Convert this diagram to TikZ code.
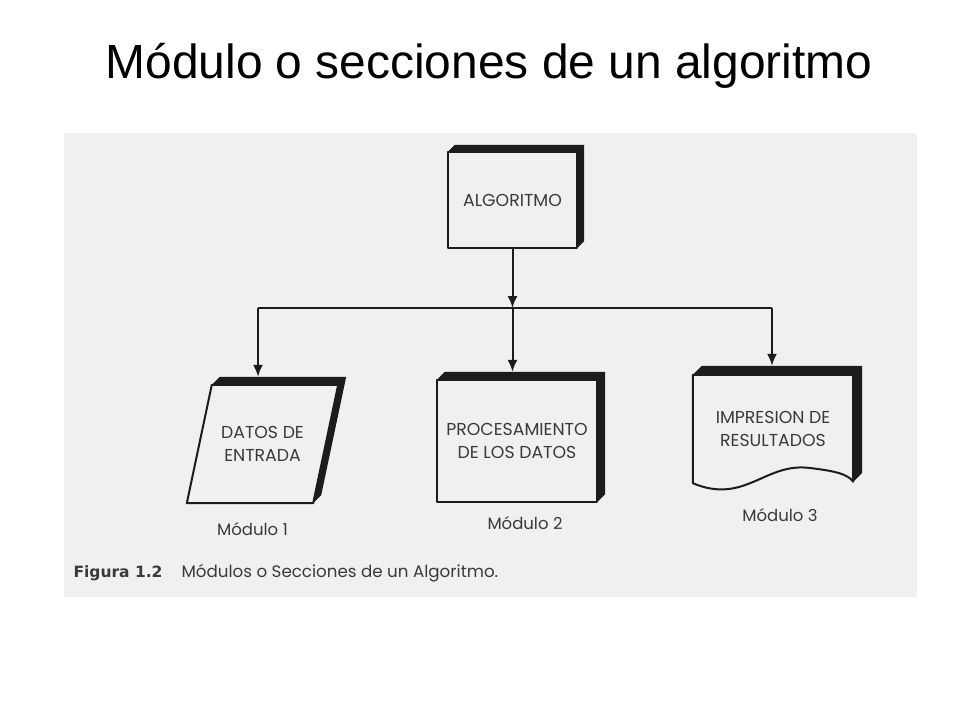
\documentclass[tikz,border=0pt]{standalone}
\usepackage{fontspec}
\setmainfont{Liberation Sans}
\newfontfamily\boxfont{Poppins}
\newfontfamily\figfont{DejaVu Sans}
\usetikzlibrary{positioning, calc, arrows.meta}
\definecolor{panel}{HTML}{F0F0F0}
\definecolor{tinta}{HTML}{1C1C1C}
\definecolor{texto}{HTML}{3A3A3A}

\begin{document}
\begin{tikzpicture}[x=1pt, y=-1pt,
	modulo/.style={rectangle, inner sep=0pt, align=center, text=texto,
		font=\boxfont\fontsize{17.3}{23}\selectfont},
	etiqueta/.style={text=texto, font=\boxfont\fontsize{16.5}{18}\selectfont},
	linea/.style={draw=tinta, line width=2pt},
	flecha/.style={linea, -{Latex[length=12pt,width=10pt]}},
	sombra/.style={fill=tinta},
	contorno/.style={draw=tinta, line width=2pt, line join=round}]
	
	\useasboundingbox (0,0) rectangle (960,720);
	
	%Title and scanned panel
	\node (titulo) at (489,78) [anchor=base, font=\fontsize{47.9}{52}\selectfont]{M\'odulo o secciones de un algoritmo};
	
	\fill[panel] (64,133) rectangle (917,597);
	
	%Nodes of the scheme
	\node (algoritmo) at (512.5,200) [modulo, minimum width=129, minimum height=96]{ALGORITMO};
	
	\node (datos) at (262.5,444) [modulo, minimum width=151, minimum height=118]{DATOS DE\\ENTRADA};
	
	\node (procesamiento) at (517,441) [modulo, minimum width=160, minimum height=122]{PROCESAMIENTO\\DE LOS DATOS};
	
	\node (impresion) at (773,429) [modulo, minimum width=160, minimum height=108]{IMPRESION DE\\RESULTADOS};
	
	%Shadows and outlines
	\fill[sombra] (algoritmo.north west) -- ++(7,-7) -- ($(algoritmo.north east)+(7,-7)$) -- 
	($(algoritmo.south east)+(7,-7)$) -- (algoritmo.south east) -- (algoritmo.north east) -- cycle;
	\draw[contorno] (algoritmo.north west) rectangle (algoritmo.south east);
	
	\fill[sombra] ($(datos.north west)+(25,0)$) -- ++(8,-8) -- ($(datos.north east)+(8,-8)$) -- 
	($(datos.south east)+(-17,-8)$) -- ($(datos.south east)+(-25,0)$) -- (datos.north east) -- cycle;
	\draw[contorno] ($(datos.north west)+(25,0)$) -- (datos.north east) -- ($(datos.south east)+(-25,0)$) -- 
	(datos.south west) -- cycle;
	
	\fill[sombra] (procesamiento.north west) -- ++(8,-8) -- ($(procesamiento.north east)+(8,-8)$) -- 
	($(procesamiento.south east)+(8,-8)$) -- (procesamiento.south east) -- (procesamiento.north east) -- cycle;
	\draw[contorno] (procesamiento.north west) rectangle (procesamiento.south east);
	
	\fill[sombra] (impresion.north west) -- ++(9,-9) -- ($(impresion.north east)+(9,-9)$) -- 
	($(impresion.north east)+(9,98)$) -- ($(impresion.north east)+(0,107)$) -- (impresion.north east) -- cycle;
	\draw[contorno] (impresion.north east) -- (impresion.north west) -- (impresion.south west) 
	.. controls (745,505) and (765,462) .. (810,468) .. controls (835,471) and (848,474) .. 
	($(impresion.north east)+(0,107)$) -- cycle;
	
	%Module labels
	\node (modulo1) [etiqueta, below=16pt of datos, xshift=-10pt]{M\'odulo 1};
	\node (modulo2) [etiqueta, below=11pt of procesamiento, xshift=8pt]{M\'odulo 2};
	\node (modulo3) [etiqueta, below=22pt of impresion, xshift=7pt]{M\'odulo 3};
	
	%Links
	\coordinate (rama) at (512.5,308);
	\coordinate (izquierda) at (258,308);
	\coordinate (derecha) at (772,308);
	
	\draw[flecha] (algoritmo.south) -- (rama);
	\draw[linea] (izquierda) -- (derecha);
	\draw[flecha, shorten >=8pt] (izquierda) -- (izquierda |- datos.north);
	\draw[flecha, shorten >=8pt] (rama) -- (rama |- procesamiento.north);
	\draw[flecha, shorten >=9pt] (derecha) -- (derecha |- impresion.north);
	
	%Caption
	\node (figura) at (70,577) [anchor=base west, text=texto, font=\figfont\bfseries\fontsize{15.5}{18}\selectfont]{Figura 1.2};
	
	\node (leyenda) at (178,577) [anchor=base west, text=texto, font=\boxfont\fontsize{16.7}{18}\selectfont]{M\'odulos o Secciones de un Algoritmo.};
	
\end{tikzpicture}
\end{document}
